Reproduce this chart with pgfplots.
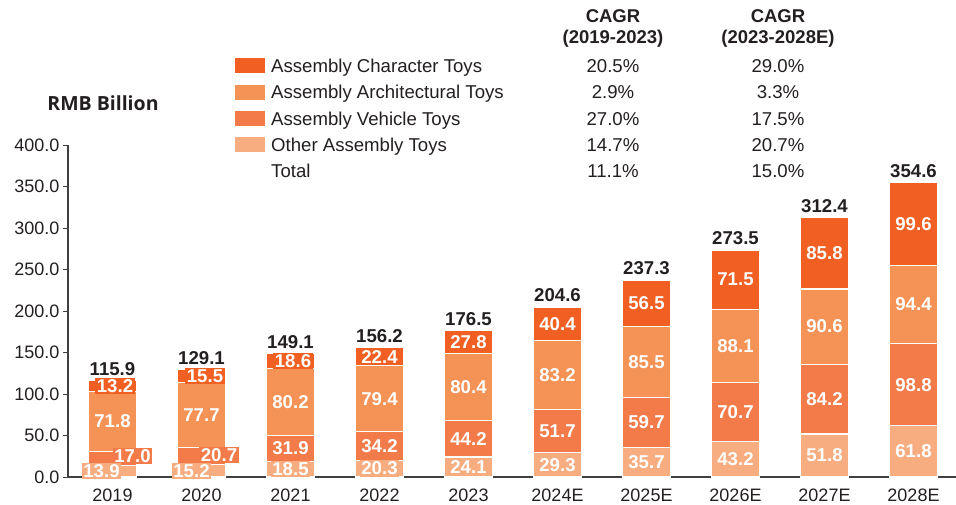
\documentclass[border=0pt]{standalone}
\usepackage{pgfplots}
\usepackage{pgfplotstable}
\pgfplotsset{compat=1.18}
\usepackage{fontspec}
\setmainfont{Liberation Sans}
\newfontfamily\opensans{Open Sans}

\definecolor{cChr}{HTML}{F15F22}
\definecolor{cArc}{HTML}{F59256}
\definecolor{cVeh}{HTML}{F37B4A}
\definecolor{cOth}{HTML}{F8AD80}
\definecolor{axgray}{HTML}{404040}
\definecolor{txt}{HTML}{231F20}

\newcommand{\fs}{\fontsize{18}{21}\selectfont}
\newcommand{\fl}{\fontsize{18.6}{22}\selectfont}

% segment values, totals and label nudges (pt)
\pgfplotstableread{
x oth veh arc chr tot dxo dyo dxv dyv dxc
0 13.9 17.0 71.8 13.2 115.9 -11 0 20 2 2.5
1 15.2 20.7 77.7 15.5 129.1 -10 0 17.5 1 3.5
2 18.5 31.9 80.2 18.6 149.1 0 0 0 0 2.5
3 20.3 34.2 79.4 22.4 156.2 0 0 0 0 0
4 24.1 44.2 80.4 27.8 176.5 0 0 0 0 0
5 29.3 51.7 83.2 40.4 204.6 0 0 0 0 0
6 35.7 59.7 85.5 56.5 237.3 0 0 0 0 0
7 43.2 70.7 88.1 71.5 273.5 0 0 0 0 0
8 51.8 84.2 90.6 85.8 312.4 0 0 0 0 0
9 61.8 98.8 94.4 99.6 354.6 0 0 0 0 0
}\data

\pgfplotsset{frame/.style={
    scale only axis,
    width=890pt, height=332pt,
    bar width=48pt,
    xmin=-0.5, xmax=9.5,
    ymin=0, ymax=400,
    clip=false,
    nodes near coords={\pgfmathprintnumber[fixed,fixed zerofill,precision=1,assume math mode=true]{\pgfplotspointmeta}},
    point meta=explicit,
}}

\begin{document}
\begin{tikzpicture}
\begin{axis}[
    frame,
    ybar stacked,
    axis x line*=bottom,
    axis y line*=left,
    axis line style={axgray, line width=1.1pt},
    xtick=data,
    xticklabels={2019,2020,2021,2022,2023,2024E,2025E,2026E,2027E,2028E},
    x tick style={draw=none},
    ytick={0,50,...,400},
    y tick style={axgray, line width=1pt},
    tick align=outside,
    major tick length=5pt,
    ticklabel style={font=\fs, text=txt},
    yticklabel style={/pgf/number format/.cd, fixed, fixed zerofill, precision=1, assume math mode=true},
    xticklabel style={yshift=-3pt},
]
\addplot[fill=cOth, draw=white, line width=1.2pt,
    visualization depends on={0.415*\thisrow{oth} \as \half},
    visualization depends on={\thisrow{dxo} \as \shx},
    visualization depends on={\thisrow{dyo} \as \shy},
    every node near coord/.append style={anchor=center, fill=cOth, text=white, font=\fl\bfseries, inner sep=1.5pt, yshift=\shy pt-\half pt, xshift=\shx pt}]
    table[x=x, y=oth, meta=oth] {\data};
\addplot[fill=cVeh, draw=white, line width=1.2pt,
    visualization depends on={0.415*\thisrow{veh} \as \half},
    visualization depends on={\thisrow{dxv} \as \shx},
    visualization depends on={\thisrow{dyv} \as \shy},
    every node near coord/.append style={anchor=center, fill=cVeh, text=white, font=\fl\bfseries, inner sep=1.5pt, yshift=\shy pt-\half pt, xshift=\shx pt}]
    table[x=x, y=veh, meta=veh] {\data};
\addplot[fill=cArc, draw=white, line width=1.2pt,
    visualization depends on={0.415*\thisrow{arc} \as \half},
    every node near coord/.append style={anchor=center, fill=cArc, text=white, font=\fl\bfseries, inner sep=1.5pt, yshift=-\half pt}]
    table[x=x, y=arc, meta=arc] {\data};
\addplot[fill=cChr, draw=white, line width=1.2pt,
    visualization depends on={0.415*\thisrow{chr} \as \half},
    visualization depends on={\thisrow{dxc} \as \shx},
    every node near coord/.append style={anchor=center, fill=cChr, text=white, font=\fl\bfseries, inner sep=1.5pt, yshift=-\half pt, xshift=\shx pt}]
    table[x=x, y=chr, meta=chr] {\data};
\end{axis}

% totals above the bars, on an invisible twin axis
\begin{axis}[
    frame,
    ybar,
    hide axis,
]
\addplot[draw=none, fill=none,
    every node near coord/.append style={anchor=south, text=txt, font=\fl\bfseries, yshift=1.5pt}]
    table[x=x, y=tot, meta=tot] {\data};
\end{axis}

% unit label
\node[font=\opensans\bfseries\fontsize{19.5}{22}\selectfont, text=txt] at (35pt,374pt) {RMB Billion};

% legend with CAGR columns
\begin{scope}[font=\fl, text=txt]
\node[font=\fontsize{18.5}{21}\selectfont\bfseries, align=center, inner sep=0pt] at (545pt,449pt) {CAGR\\(2019-2023)};
\node[font=\fontsize{18.5}{21}\selectfont\bfseries, align=center, inner sep=0pt] at (710pt,449pt) {CAGR\\(2023-2028E)};
\foreach \name/\a/\b [count=\i from 0] in {
    Assembly Character Toys/20.5/29.0,
    Assembly Architectural Toys/2.9/3.3,
    Assembly Vehicle Toys/27.0/17.5,
    Other Assembly Toys/14.7/20.7,
    Total/11.1/15.0}{
  \pgfmathsetmacro{\yy}{411-26.3*\i-6.7}
  \node[anchor=base west, inner sep=0pt] at (203pt,\yy pt) {\name};
  \node[anchor=base, inner sep=0pt] at (545pt,\yy pt) {\a\%};
  \node[anchor=base, inner sep=0pt] at (710pt,\yy pt) {\b\%};
}
\foreach \c [count=\i from 0] in {cChr,cArc,cVeh,cOth}{
  \pgfmathsetmacro{\yy}{411-26.3*\i}
  \fill[\c] (167pt,\yy pt-7.5pt) rectangle (197pt,\yy pt+7.5pt);
}
\end{scope}

\pgfresetboundingbox
\path[use as bounding box] (-68pt,-27pt) rectangle (888pt,477pt);
\end{tikzpicture}
\end{document}
